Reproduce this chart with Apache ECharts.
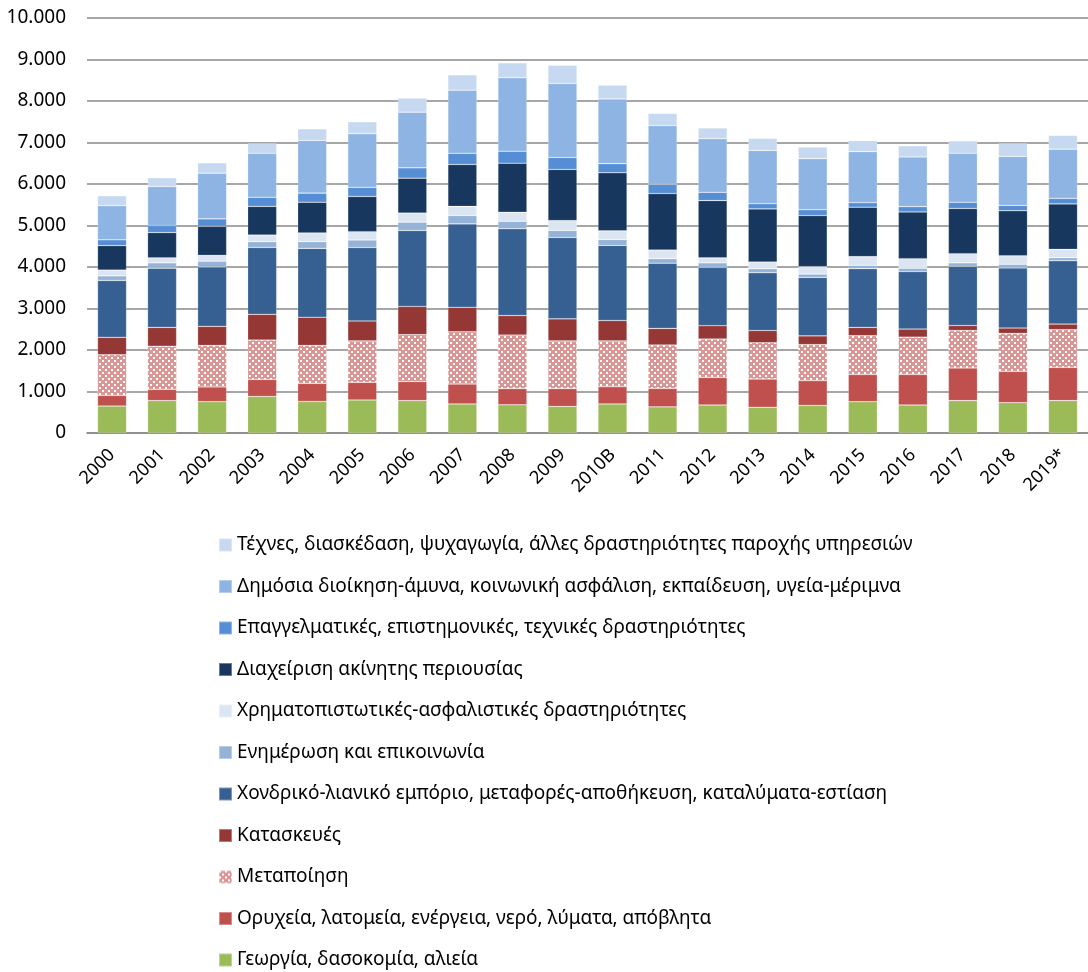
<!DOCTYPE html>
<html>
<head>
<meta charset="utf-8">
<script src="https://cdn.jsdelivr.net/npm/echarts@6/dist/echarts.min.js"></script>
<style>
  html, body { margin: 0; padding: 0; background: #fff; }
  #chart { width: 1088px; height: 972px; }
</style>
</head>
<body>
<div id="chart"></div>
<script>
  // χρονιές
  const years = ['2000', '2001', '2002', '2003', '2004', '2005', '2006', '2007', '2008', '2009',
    '2010B', '2011', '2012', '2013', '2014', '2015', '2016', '2017', '2018', '2019*']

  // κλάδοι, από κάτω προς τα πάνω
  const agriculture = [650, 780, 755, 880, 760, 795, 780, 700, 680, 640, 700, 630, 675, 620, 665, 755, 675, 780, 730, 780]
  const mining = [256, 270, 355, 410, 435, 425, 460, 480, 390, 430, 415, 445, 665, 680, 595, 655, 735, 785, 755, 800]
  const manufacturing = [980, 1040, 1000, 950, 915, 1000, 1130, 1260, 1290, 1150, 1105, 1045, 925, 875, 870, 935, 900, 905, 915, 910]
  const construction = [420, 455, 460, 620, 680, 480, 680, 590, 470, 530, 490, 400, 320, 295, 210, 200, 195, 120, 130, 135]
  const trade = [1370, 1425, 1430, 1610, 1660, 1770, 1830, 2010, 2090, 1960, 1810, 1570, 1405, 1390, 1410, 1415, 1385, 1425, 1450, 1525]
  const information = [110, 130, 140, 140, 160, 180, 200, 200, 180, 170, 140, 110, 110, 100, 80, 80, 80, 85, 85, 75]
  const finance = [140, 120, 140, 160, 210, 200, 220, 220, 220, 240, 210, 210, 120, 160, 180, 210, 230, 220, 205, 200]
  const realEstate = [590, 610, 700, 690, 740, 850, 840, 1010, 1180, 1230, 1400, 1360, 1380, 1280, 1230, 1190, 1125, 1090, 1085, 1095]
  const professional = [140, 170, 180, 220, 220, 220, 250, 270, 290, 290, 220, 220, 200, 125, 140, 110, 130, 150, 130, 135]
  const publicAdmin = [820, 940, 1100, 1060, 1270, 1290, 1340, 1520, 1770, 1780, 1560, 1420, 1290, 1285, 1230, 1230, 1195, 1180, 1180, 1185]
  const arts = [240, 210, 250, 240, 280, 290, 340, 370, 360, 440, 330, 290, 260, 290, 280, 265, 270, 300, 315, 330]

  const yTicks = [0, 1000, 2000, 3000, 4000, 5000, 6000, 7000, 8000, 9000, 10000]

  // μοτίβο για τη μεταποίηση
  const tile = document.createElement('canvas')
  tile.width = 6
  tile.height = 6
  const ctx = tile.getContext('2d')
  ctx.fillStyle = '#d99694'
  ctx.fillRect(0, 0, 6, 6)
  ctx.fillStyle = '#ffffff'
  ctx.fillRect(0, 0, 2, 2)
  ctx.fillRect(3, 3, 2, 2)

  const seriesDefs = [
    { name: 'Γεωργία, δασοκομία, αλιεία', data: agriculture, color: '#9bbb59' },
    { name: 'Ορυχεία, λατομεία, ενέργεια, νερό, λύματα, απόβλητα', data: mining, color: '#c0504d' },
    { name: 'Μεταποίηση', data: manufacturing, color: { image: tile, repeat: 'repeat' } },
    { name: 'Κατασκευές', data: construction, color: '#953735' },
    { name: 'Χονδρικό-λιανικό εμπόριο, μεταφορές-αποθήκευση, καταλύματα-εστίαση', data: trade, color: '#376092' },
    { name: 'Ενημέρωση και επικοινωνία', data: information, color: '#95b3d7' },
    { name: 'Χρηματοπιστωτικές-ασφαλιστικές δραστηριότητες', data: finance, color: '#dce6f2' },
    { name: 'Διαχείριση ακίνητης περιουσίας', data: realEstate, color: '#17375e' },
    { name: 'Επαγγελματικές, επιστημονικές, τεχνικές δραστηριότητες', data: professional, color: '#558ed5' },
    { name: 'Δημόσια διοίκηση-άμυνα, κοινωνική ασφάλιση, εκπαίδευση, υγεία-μέριμνα', data: publicAdmin, color: '#8eb4e3' },
    { name: 'Τέχνες, διασκέδαση, ψυχαγωγία, άλλες δραστηριότητες παροχής υπηρεσιών', data: arts, color: '#c6d9f1' }
  ]

  const font = '"Noto Sans", "DejaVu Sans", sans-serif'

  // ένα υπόμνημα ανά γραμμή, από πάνω προς τα κάτω
  const legendNames = seriesDefs.map(s => s.name).reverse()
  const legends = legendNames.map((name, i) => ({
    orient: 'vertical',
    left: 218,
    top: 535 + i * 41.5,
    padding: 0,
    itemWidth: 13,
    itemHeight: 13,
    itemGap: 5,
    icon: 'rect',
    selectedMode: false,
    textStyle: { fontSize: 19, color: '#000', lineHeight: 20, fontFamily: font },
    data: [name]
  }))

  const chart = echarts.init(document.getElementById('chart'), null, { renderer: 'canvas' })

  chart.setOption({
    animation: false,
    backgroundColor: '#fff',
    textStyle: { fontFamily: font },
    grid: {
      left: 87,
      right: -8,
      top: 18,
      bottom: 539
    },
    legend: legends,
    xAxis: {
      type: 'category',
      data: years,
      axisLine: { lineStyle: { color: '#888', width: 1.6 } },
      axisTick: { show: false },
      axisLabel: {
        interval: 0,
        rotate: 45,
        margin: 19,
        color: '#000',
        fontSize: 18,
        fontFamily: font
      }
    },
    yAxis: {
      type: 'value',
      min: yTicks[0],
      max: yTicks[yTicks.length - 1],
      interval: 1000,
      axisLine: { show: false },
      axisTick: { show: false },
      splitLine: { lineStyle: { color: '#888', width: 1.6 } },
      axisLabel: {
        margin: 21,
        color: '#000',
        fontSize: 19,
        fontFamily: font,
        formatter: v => v.toString().replace(/\B(?=(\d{3})+(?!\d))/g, '.')
      }
    },
    series: seriesDefs.map(s => ({
      name: s.name,
      type: 'bar',
      stack: 'total',
      barWidth: 29,
      data: s.data,
      itemStyle: {
        color: s.color,
        borderColor: 'rgba(255,255,255,0.35)',
        borderWidth: 0.6
      }
    }))
  })
</script>
</body>
</html>
